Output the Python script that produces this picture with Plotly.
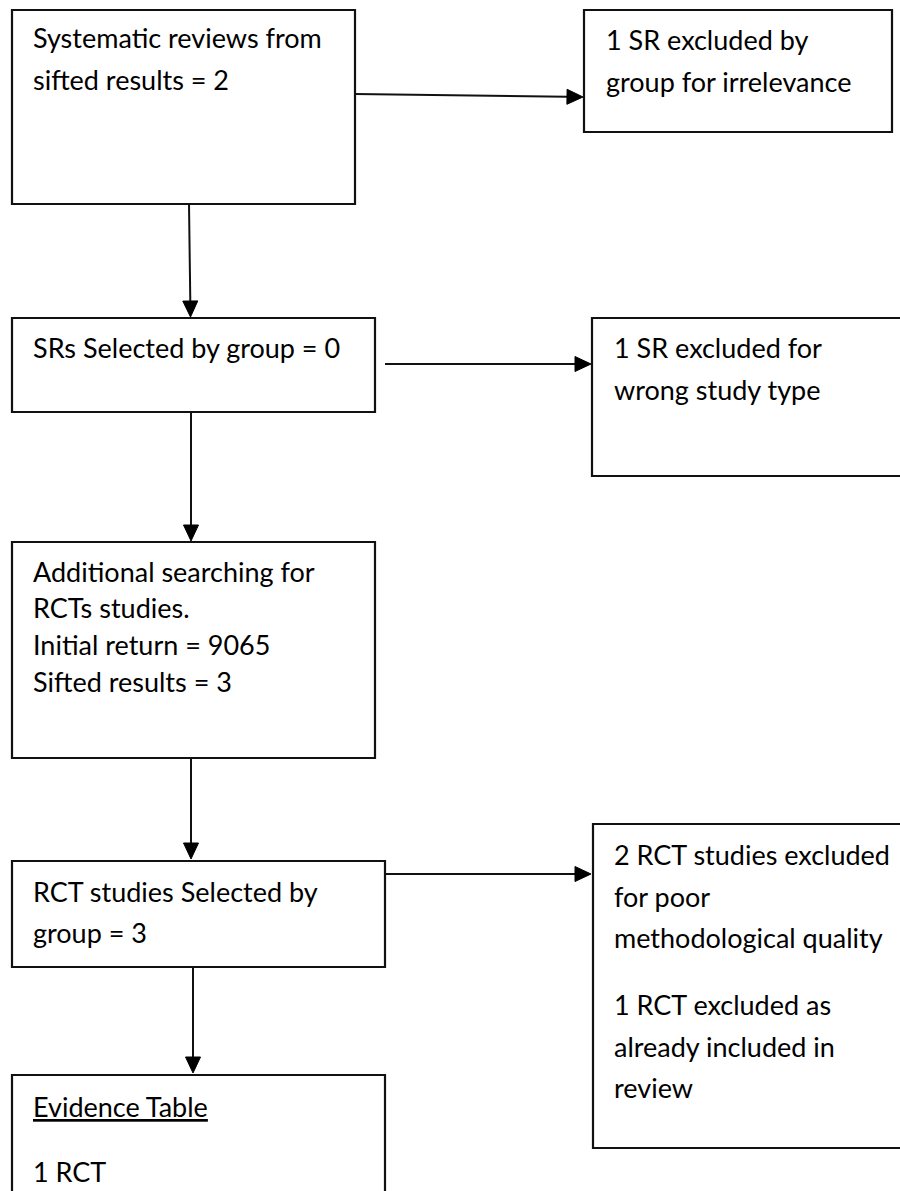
import plotly.graph_objects as go

# ---- data (text content of the flow chart) ----
sr_sifted = 2
sr_selected = 0
rct_initial_return = 9065
rct_sifted = 3
rct_selected = 3
rct_in_table = 1

box_texts = [
    ["Systematic reviews from", f"sifted results = {sr_sifted}"],
    ["1 SR excluded by", "group for irrelevance"],
    [f"SRs Selected by group = {sr_selected}"],
    ["1 SR excluded for", "wrong study type"],
    ["Additional searching for", "RCTs studies.", f"Initial return = {rct_initial_return}",
     f"Sifted results = {rct_sifted}"],
    ["RCT studies Selected by", f"group = {rct_selected}"],
    ["2 RCT studies excluded", "for poor", "methodological quality", "",
     "1 RCT excluded as", "already included in", "review"],
    ["<u>Evidence Table</u>", "", f"{rct_in_table} RCT"],
]

# ---- layout (page-pixel geometry, y grows downward) ----
W, H = 900, 1191
boxes = [  # x0, y0, x1, y1
    (12, 10, 355, 204),
    (584, 10, 892, 132),
    (12, 318, 375, 412),
    (592, 318, 915, 476),
    (12, 542, 375, 758),
    (12, 861, 385, 967),
    (593, 824, 915, 1148),
    (12, 1075, 385, 1210),
]
text_x = [31, 604, 31, 612, 31, 31, 612, 31]
text_y = [
    [37, 79],
    [39, 81],
    [347],
    [347, 389],
    [571, 607, 644, 681],
    [891, 932],
    [854, 896, 937, None, 1004, 1046, 1087],
    [1106, None, 1171],
]
arrows = [  # x0, y0, x1(tip), y1(tip)
    (355, 94, 583, 97),
    (189, 204, 190.5, 317),
    (385, 364, 591, 364),
    (191, 412, 191, 541),
    (191, 758, 191, 859),
    (385, 874, 591, 874),
    (193, 967, 193, 1073),
]
HEAD_LEN, HEAD_W = 16, 15
FONT = "Lato"
FSIZE = 27

fig = go.Figure()
shapes = []
for (x0, y0, x1, y1) in boxes:
    shapes.append(dict(type="rect", x0=x0, y0=y0, x1=x1, y1=y1,
                       line=dict(color="#111111", width=2.2), fillcolor="rgba(0,0,0,0)",
                       layer="above"))

for (x0, y0, x1, y1) in arrows:
    dx, dy = x1 - x0, y1 - y0
    L = (dx * dx + dy * dy) ** 0.5
    ux, uy = dx / L, dy / L
    bx, by = x1 - ux * HEAD_LEN, y1 - uy * HEAD_LEN
    px, py = -uy, ux
    shapes.append(dict(type="line", x0=x0, y0=y0, x1=bx, y1=by,
                       line=dict(color="#111111", width=2)))
    path = (f"M {x1},{y1} L {bx + px * HEAD_W / 2},{by + py * HEAD_W / 2} "
            f"L {bx - px * HEAD_W / 2},{by - py * HEAD_W / 2} Z")
    shapes.append(dict(type="path", path=path, fillcolor="#000000",
                       line=dict(color="#000000", width=1)))

annotations = []
for lines, tx, tys in zip(box_texts, text_x, text_y):
    for line, ty in zip(lines, tys):
        if not line or ty is None:
            continue
        annotations.append(dict(x=tx, y=ty, text=line, showarrow=False,
                                xanchor="left", yanchor="middle",
                                font=dict(family=FONT, size=FSIZE, color="#000000")))

fig.update_layout(
    width=W, height=H,
    margin=dict(l=0, r=0, t=0, b=0),
    paper_bgcolor="white", plot_bgcolor="white",
    xaxis=dict(range=[0, W], visible=False, fixedrange=True),
    yaxis=dict(range=[H, 0], visible=False, fixedrange=True),
    shapes=shapes, annotations=annotations,
    showlegend=False,
)
fig.write_html(
    "out.html",
    config={"displayModeBar": False},
    post_script="document.body.style.margin='0';document.body.style.overflow='hidden';",
)
